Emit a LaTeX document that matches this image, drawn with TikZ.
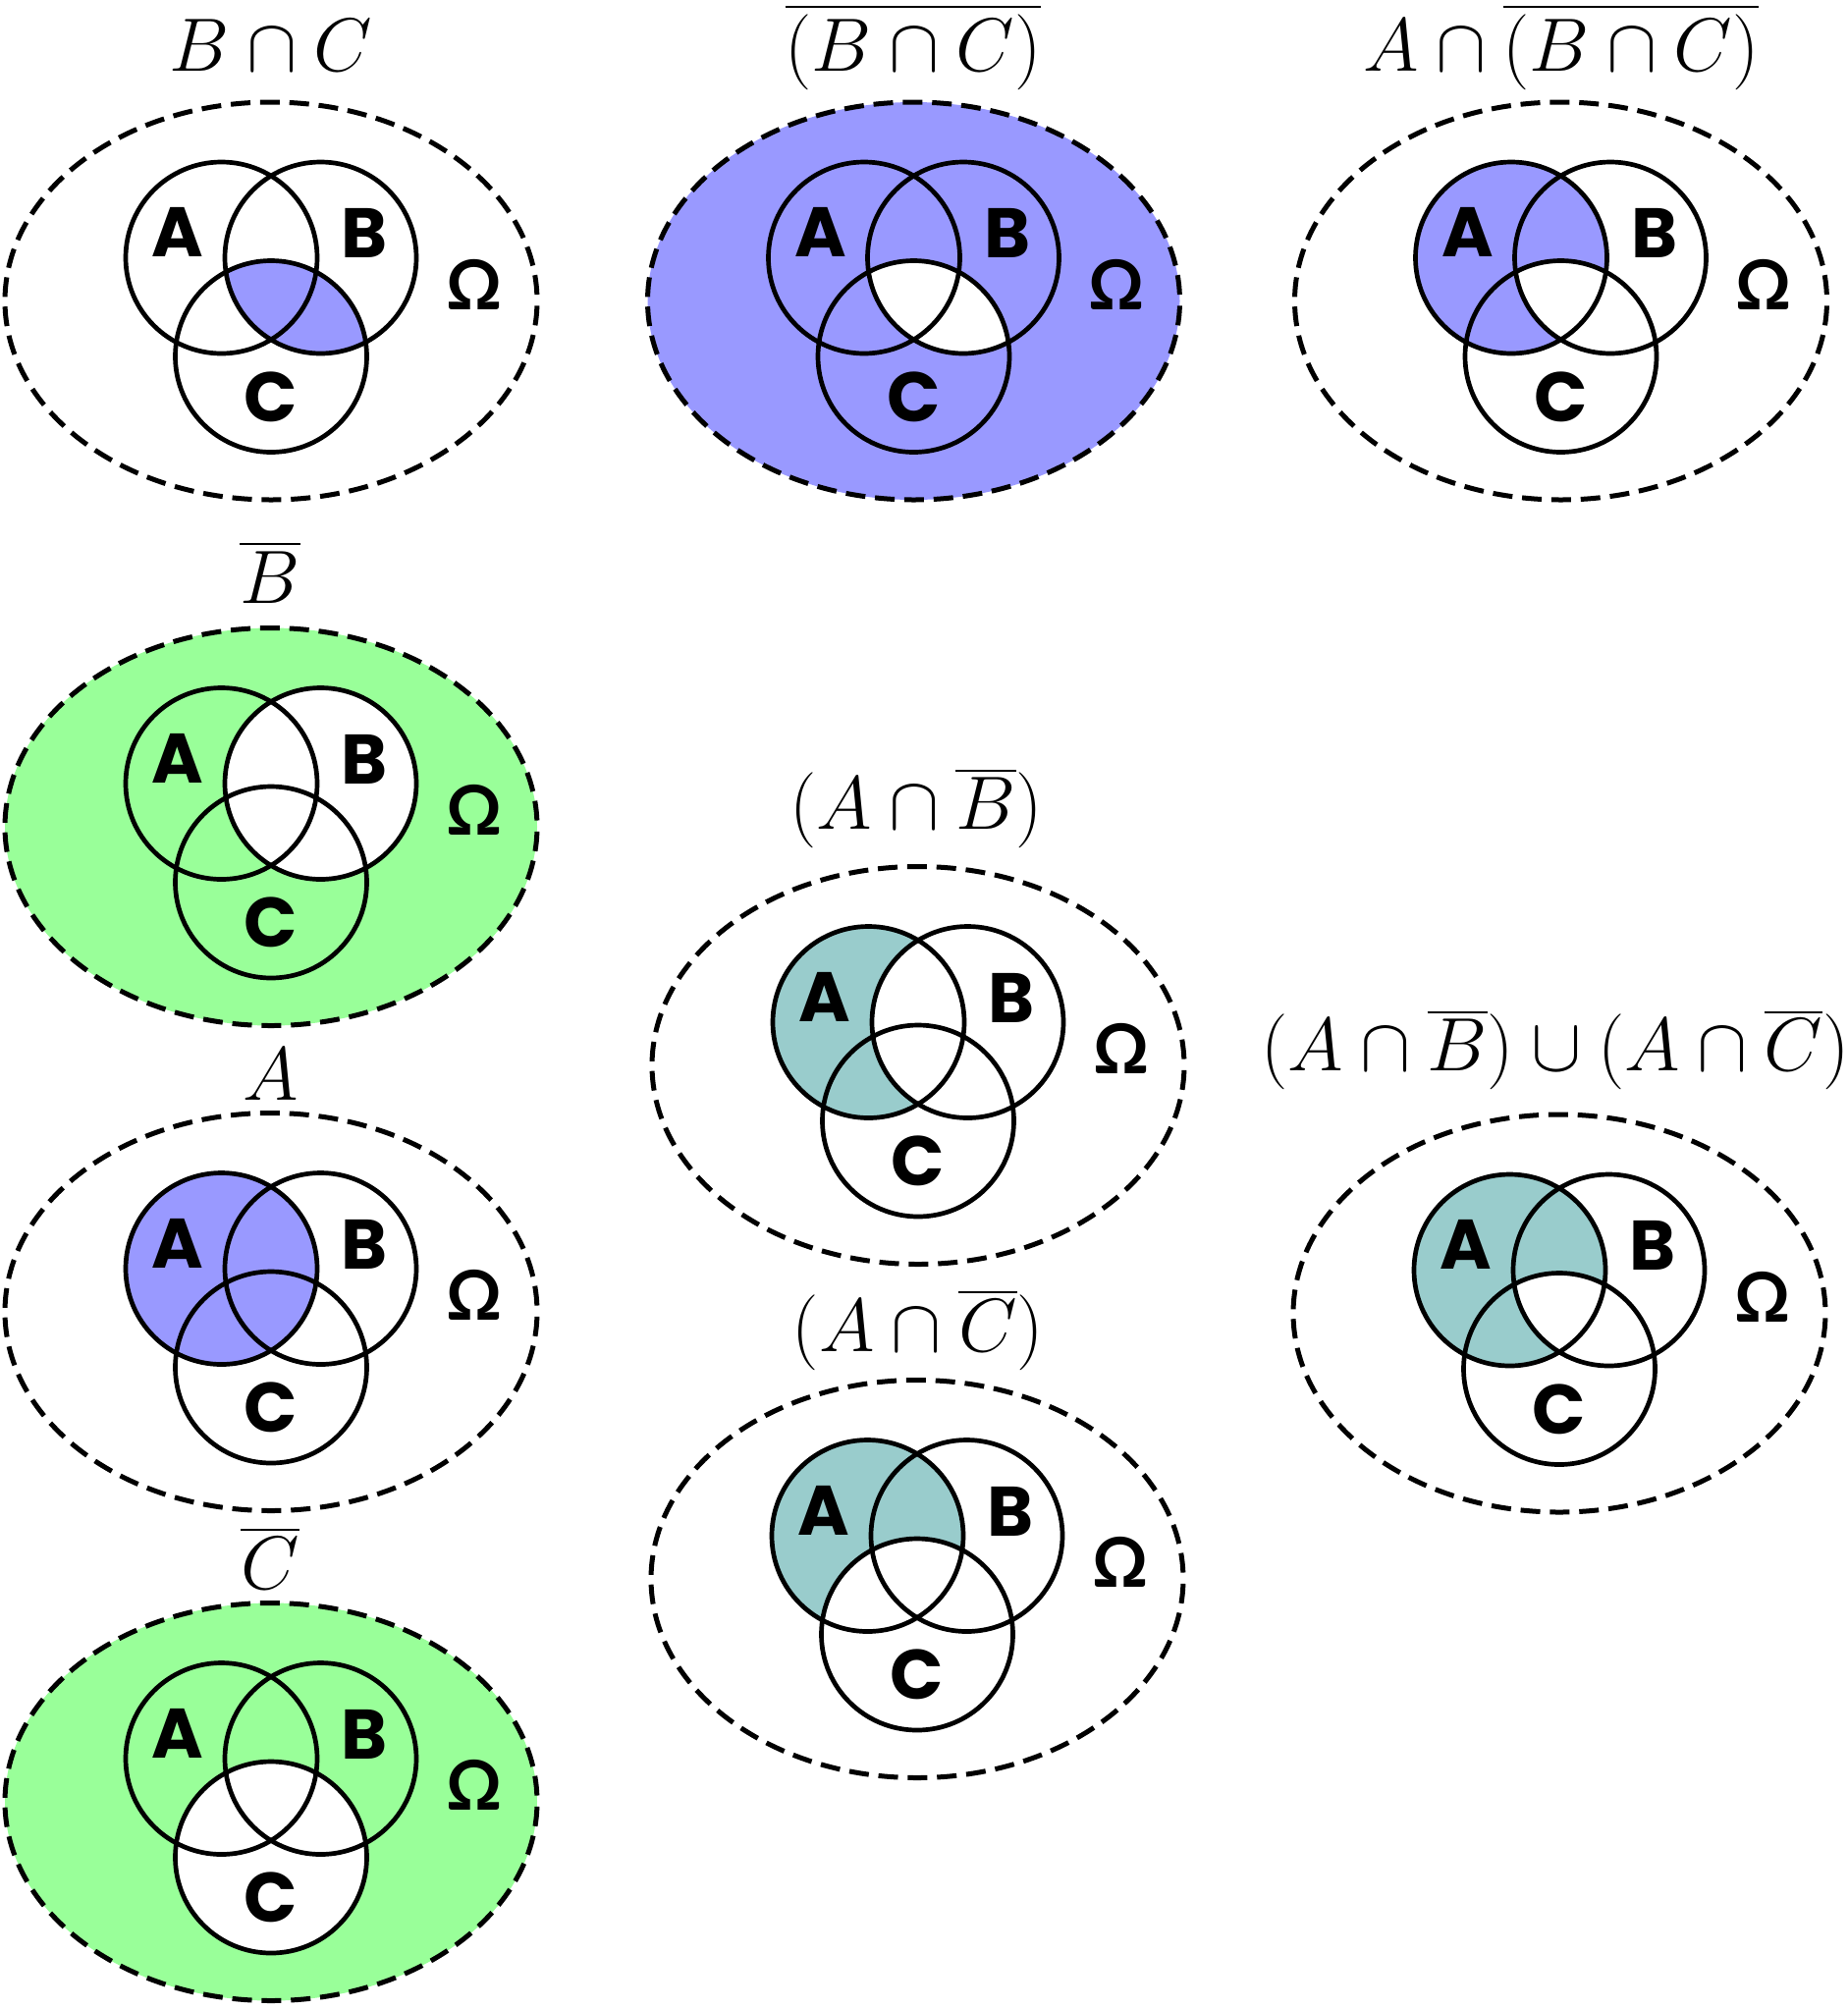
\RequirePackage{fix-cm}
\documentclass[tikz,border=0pt]{standalone}
\usepackage{exscale}
\usepackage{fontspec}
\newfontfamily\vennfont{Poppins}
\newfontfamily\omegafont{Lato}
\definecolor{vblue}{RGB}{153,153,255}
\definecolor{vgreen}{RGB}{153,255,153}
\definecolor{vteal}{RGB}{153,204,204}
\tikzset{
  omegaline/.style={line width=2.5pt, dash pattern=on 10pt off 4.94pt, dash phase=12.47pt},
  setline/.style={line width=2.35pt},
  setlbl/.style={inner sep=0pt, font=\vennfont\bfseries\fontsize{35.7}{40}\selectfont},
  omlbl/.style={inner sep=0pt, font=\omegafont\bfseries\fontsize{35}{40}\selectfont},
  ttl/.style={inner sep=0pt, anchor=base, font=\fontsize{38.5}{46}\selectfont},
}
% regions (relative to the diagram centre)
\newcommand\fillA[1]{\fill[#1] (-50.5,-44) circle [radius=97.5];}
\newcommand\fillB[1]{\fill[#1] (50.5,-44) circle [radius=97.5];}
\newcommand\fillC[1]{\fill[#1] (0,56.5) circle [radius=97.5];}
\newcommand\fillO[1]{\fill[#1] (0,0) ellipse [x radius=271, y radius=202.5];}
\newcommand\clipA{\clip (-50.5,-44) circle [radius=97.5];}
\newcommand\clipB{\clip (50.5,-44) circle [radius=97.5];}
\newcommand\clipC{\clip (0,56.5) circle [radius=97.5];}
\newcommand\drawvenn[1]{%
  \draw[omegaline] (0,0) ellipse [x radius=271, y radius=202.5];
  \draw[setline] (-50.5,-44) circle [radius=97.5];
  \draw[setline] (50.5,-44) circle [radius=97.5];
  \draw[setline] (0,56.5) circle [radius=97.5];
  \node[setlbl] (#1A) at (-95,-70) {A};
  \node[setlbl] (#1B) at (95.5,-69) {B};
  \node[setlbl] (#1C) at (0,97.5) {C};
  \node[omlbl] (#1O) at (207,-17) {Ω};
}
\begin{document}
\begin{tikzpicture}[x=0.5pt,y=-0.5pt]
\useasboundingbox (0,0) rectangle (1882,2046);

% 1: B cap C
\node[ttl] (t1) at (276,72) {$B\cap C$};
\begin{scope}[shift={(276,306.5)}]
  \begin{scope}\clipB \fillC{vblue}\end{scope}
  \drawvenn{d1}
\end{scope}

% 2: complement of (B cap C)
\node[ttl] (t2) at (930,72) {$\overline{(B\cap C)}$};
\begin{scope}[shift={(930.5,306.5)}]
  \fillO{vblue}
  \begin{scope}\clipB \fillC{white}\end{scope}
  \drawvenn{d2}
\end{scope}

% 3: A cap complement(B cap C)
\node[ttl] (t3) at (1590,72) {$A\cap\overline{(B\cap C)}$};
\begin{scope}[shift={(1589.5,306.5)}]
  \fillA{vblue}
  \begin{scope}\clipB \clipC \fillA{white}\end{scope}
  \drawvenn{d3}
\end{scope}

% 4: complement B
\node[ttl] (t4) at (275,614) {$\overline{B}$};
\begin{scope}[shift={(276,842)}]
  \fillO{vgreen}
  \fillB{white}
  \drawvenn{d4}
\end{scope}

% 5: A
\node[ttl] (t5) at (275.5,1120.5) {$A$};
\begin{scope}[shift={(276,1336)}]
  \fillA{vblue}
  \drawvenn{d5}
\end{scope}

% 6: complement C
\node[ttl] (t6) at (275,1618) {$\overline{C}$};
\begin{scope}[shift={(276,1835)}]
  \fillO{vgreen}
  \fillC{white}
  \drawvenn{d6}
\end{scope}

% 7: A cap complement B
\node[ttl] (t7) at (933,844.5) {$(A\cap\overline{B})$};
\begin{scope}[shift={(935,1085)}]
  \fillA{vteal}
  \begin{scope}\clipA \fillB{white}\end{scope}
  \drawvenn{d7}
\end{scope}

% 8: A cap complement C
\node[ttl] (t8) at (935,1376) {$(A\cap\overline{C})$};
\begin{scope}[shift={(934,1608)}]
  \fillA{vteal}
  \begin{scope}\clipA \fillC{white}\end{scope}
  \drawvenn{d8}
\end{scope}

% 9: union
\node[ttl] (t9) at (1584,1090.5) {$(A\cap\overline{B})\cup(A\cap\overline{C})$};
\begin{scope}[shift={(1588,1337.5)}]
  \fillA{vteal}
  \begin{scope}\clipB \clipC \fillA{white}\end{scope}
  \drawvenn{d9}
\end{scope}
\end{tikzpicture}
\end{document}
